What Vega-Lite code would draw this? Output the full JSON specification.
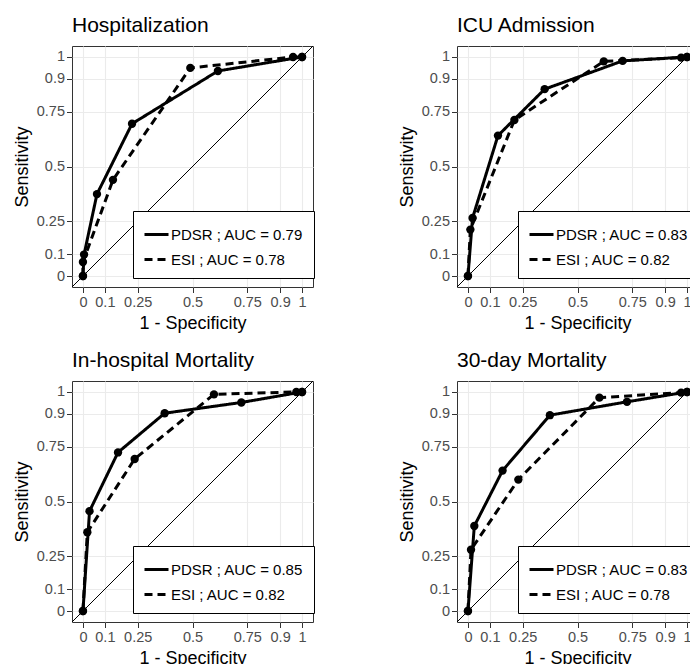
{
  "$schema": "https://vega.github.io/schema/vega-lite/v6.json",
  "padding": {"left": 12, "top": 14, "right": 0, "bottom": 0},
  "datasets": {
    "roc": [
      {"panel": "Hospitalization", "model": "PDSR", "step": 0, "fpr": 0, "tpr": 0},
      {"panel": "Hospitalization", "model": "PDSR", "step": 1, "fpr": 0.005, "tpr": 0.098},
      {"panel": "Hospitalization", "model": "PDSR", "step": 2, "fpr": 0.064, "tpr": 0.374},
      {"panel": "Hospitalization", "model": "PDSR", "step": 3, "fpr": 0.224, "tpr": 0.695},
      {"panel": "Hospitalization", "model": "PDSR", "step": 4, "fpr": 0.616, "tpr": 0.936},
      {"panel": "Hospitalization", "model": "PDSR", "step": 5, "fpr": 1, "tpr": 1},
      {"panel": "Hospitalization", "model": "ESI", "step": 0, "fpr": 0, "tpr": 0},
      {"panel": "Hospitalization", "model": "ESI", "step": 1, "fpr": 0, "tpr": 0.064},
      {"panel": "Hospitalization", "model": "ESI", "step": 2, "fpr": 0.137, "tpr": 0.439},
      {"panel": "Hospitalization", "model": "ESI", "step": 3, "fpr": 0.49, "tpr": 0.95},
      {"panel": "Hospitalization", "model": "ESI", "step": 4, "fpr": 0.959, "tpr": 1},
      {"panel": "Hospitalization", "model": "ESI", "step": 5, "fpr": 1, "tpr": 1},
      {"panel": "ICU Admission", "model": "PDSR", "step": 0, "fpr": 0, "tpr": 0},
      {"panel": "ICU Admission", "model": "PDSR", "step": 1, "fpr": 0.021, "tpr": 0.265},
      {"panel": "ICU Admission", "model": "PDSR", "step": 2, "fpr": 0.137, "tpr": 0.641},
      {"panel": "ICU Admission", "model": "PDSR", "step": 3, "fpr": 0.35, "tpr": 0.853},
      {"panel": "ICU Admission", "model": "PDSR", "step": 4, "fpr": 0.706, "tpr": 0.982},
      {"panel": "ICU Admission", "model": "PDSR", "step": 5, "fpr": 1, "tpr": 1},
      {"panel": "ICU Admission", "model": "ESI", "step": 0, "fpr": 0, "tpr": 0},
      {"panel": "ICU Admission", "model": "ESI", "step": 1, "fpr": 0.011, "tpr": 0.212},
      {"panel": "ICU Admission", "model": "ESI", "step": 2, "fpr": 0.212, "tpr": 0.712},
      {"panel": "ICU Admission", "model": "ESI", "step": 3, "fpr": 0.62, "tpr": 0.98},
      {"panel": "ICU Admission", "model": "ESI", "step": 4, "fpr": 0.973, "tpr": 0.997},
      {"panel": "ICU Admission", "model": "ESI", "step": 5, "fpr": 1, "tpr": 1},
      {"panel": "In-hospital Mortality", "model": "PDSR", "step": 0, "fpr": 0, "tpr": 0},
      {"panel": "In-hospital Mortality", "model": "PDSR", "step": 1, "fpr": 0.03, "tpr": 0.456},
      {"panel": "In-hospital Mortality", "model": "PDSR", "step": 2, "fpr": 0.16, "tpr": 0.724},
      {"panel": "In-hospital Mortality", "model": "PDSR", "step": 3, "fpr": 0.373, "tpr": 0.903},
      {"panel": "In-hospital Mortality", "model": "PDSR", "step": 4, "fpr": 0.723, "tpr": 0.952},
      {"panel": "In-hospital Mortality", "model": "PDSR", "step": 5, "fpr": 1, "tpr": 1},
      {"panel": "In-hospital Mortality", "model": "ESI", "step": 0, "fpr": 0, "tpr": 0},
      {"panel": "In-hospital Mortality", "model": "ESI", "step": 1, "fpr": 0.02, "tpr": 0.36},
      {"panel": "In-hospital Mortality", "model": "ESI", "step": 2, "fpr": 0.236, "tpr": 0.694},
      {"panel": "In-hospital Mortality", "model": "ESI", "step": 3, "fpr": 0.598, "tpr": 0.989},
      {"panel": "In-hospital Mortality", "model": "ESI", "step": 4, "fpr": 0.974, "tpr": 1},
      {"panel": "In-hospital Mortality", "model": "ESI", "step": 5, "fpr": 1, "tpr": 1},
      {"panel": "30-day Mortality", "model": "PDSR", "step": 0, "fpr": 0, "tpr": 0},
      {"panel": "30-day Mortality", "model": "PDSR", "step": 1, "fpr": 0.029, "tpr": 0.388},
      {"panel": "30-day Mortality", "model": "PDSR", "step": 2, "fpr": 0.158, "tpr": 0.641},
      {"panel": "30-day Mortality", "model": "PDSR", "step": 3, "fpr": 0.374, "tpr": 0.894},
      {"panel": "30-day Mortality", "model": "PDSR", "step": 4, "fpr": 0.726, "tpr": 0.955},
      {"panel": "30-day Mortality", "model": "PDSR", "step": 5, "fpr": 1, "tpr": 1},
      {"panel": "30-day Mortality", "model": "ESI", "step": 0, "fpr": 0, "tpr": 0},
      {"panel": "30-day Mortality", "model": "ESI", "step": 1, "fpr": 0.014, "tpr": 0.28},
      {"panel": "30-day Mortality", "model": "ESI", "step": 2, "fpr": 0.23, "tpr": 0.6},
      {"panel": "30-day Mortality", "model": "ESI", "step": 3, "fpr": 0.6, "tpr": 0.974},
      {"panel": "30-day Mortality", "model": "ESI", "step": 4, "fpr": 0.973, "tpr": 0.997},
      {"panel": "30-day Mortality", "model": "ESI", "step": 5, "fpr": 1, "tpr": 1}
    ]
  },
  "columns": 2,
  "spacing": {"column": 82, "row": 16},
  "resolve": {"scale": {"strokeDash": "independent"}, "legend": {"strokeDash": "independent"}},
  "concat": [
    {
      "width": 241, "height": 241,
      "title": {"text": "Hospitalization"},
      "layer": [
        {"data": {"values": [{}]}, "mark": {"type": "rule", "color": "black", "strokeWidth": 1},
         "encoding": {"x": {"datum": -0.05, "type": "quantitative", "scale": {"domain": [-0.05, 1.05], "nice": false, "zero": false}, "axis": {"values": [0, 0.1, 0.25, 0.5, 0.75, 0.9, 1], "format": ".2~f", "title": "1 - Specificity"}},
                      "y": {"datum": -0.05, "type": "quantitative", "scale": {"domain": [-0.05, 1.05], "nice": false, "zero": false}, "axis": {"values": [0, 0.1, 0.25, 0.5, 0.75, 0.9, 1], "format": ".2~f", "title": "Sensitivity"}},
                      "x2": {"datum": 1.05}, "y2": {"datum": 1.05}}},
        {"data": {"name": "roc"},
         "transform": [{"filter": "datum.panel === 'Hospitalization'"}],
         "mark": {"type": "line", "color": "black", "strokeWidth": 3},
         "encoding": {"x": {"field": "fpr", "type": "quantitative"}, "y": {"field": "tpr", "type": "quantitative"}, "order": {"field": "step"},
                      "strokeDash": {"field": "model", "type": "nominal", "scale": {"domain": ["PDSR", "ESI"], "range": [[1, 0], [8, 5]]},
                                     "legend": {"labelExpr": "datum.label === 'PDSR' ? 'PDSR ; AUC = 0.79' : 'ESI ; AUC = 0.78'"}}}},
        {"data": {"name": "roc"},
         "transform": [{"filter": "datum.panel === 'Hospitalization'"}],
         "mark": {"type": "point", "filled": true, "color": "black", "size": 70, "opacity": 1},
         "encoding": {"x": {"field": "fpr", "type": "quantitative"}, "y": {"field": "tpr", "type": "quantitative"}}}
      ]
    },
    {
      "width": 241, "height": 241,
      "title": {"text": "ICU Admission"},
      "layer": [
        {"data": {"values": [{}]}, "mark": {"type": "rule", "color": "black", "strokeWidth": 1},
         "encoding": {"x": {"datum": -0.05, "type": "quantitative", "scale": {"domain": [-0.05, 1.05], "nice": false, "zero": false}, "axis": {"values": [0, 0.1, 0.25, 0.5, 0.75, 0.9, 1], "format": ".2~f", "title": "1 - Specificity"}},
                      "y": {"datum": -0.05, "type": "quantitative", "scale": {"domain": [-0.05, 1.05], "nice": false, "zero": false}, "axis": {"values": [0, 0.1, 0.25, 0.5, 0.75, 0.9, 1], "format": ".2~f", "title": "Sensitivity"}},
                      "x2": {"datum": 1.05}, "y2": {"datum": 1.05}}},
        {"data": {"name": "roc"},
         "transform": [{"filter": "datum.panel === 'ICU Admission'"}],
         "mark": {"type": "line", "color": "black", "strokeWidth": 3},
         "encoding": {"x": {"field": "fpr", "type": "quantitative"}, "y": {"field": "tpr", "type": "quantitative"}, "order": {"field": "step"},
                      "strokeDash": {"field": "model", "type": "nominal", "scale": {"domain": ["PDSR", "ESI"], "range": [[1, 0], [8, 5]]},
                                     "legend": {"labelExpr": "datum.label === 'PDSR' ? 'PDSR ; AUC = 0.83' : 'ESI ; AUC = 0.82'"}}}},
        {"data": {"name": "roc"},
         "transform": [{"filter": "datum.panel === 'ICU Admission'"}],
         "mark": {"type": "point", "filled": true, "color": "black", "size": 70, "opacity": 1},
         "encoding": {"x": {"field": "fpr", "type": "quantitative"}, "y": {"field": "tpr", "type": "quantitative"}}}
      ]
    },
    {
      "width": 241, "height": 241,
      "title": {"text": "In-hospital Mortality"},
      "layer": [
        {"data": {"values": [{}]}, "mark": {"type": "rule", "color": "black", "strokeWidth": 1},
         "encoding": {"x": {"datum": -0.05, "type": "quantitative", "scale": {"domain": [-0.05, 1.05], "nice": false, "zero": false}, "axis": {"values": [0, 0.1, 0.25, 0.5, 0.75, 0.9, 1], "format": ".2~f", "title": "1 - Specificity"}},
                      "y": {"datum": -0.05, "type": "quantitative", "scale": {"domain": [-0.05, 1.05], "nice": false, "zero": false}, "axis": {"values": [0, 0.1, 0.25, 0.5, 0.75, 0.9, 1], "format": ".2~f", "title": "Sensitivity"}},
                      "x2": {"datum": 1.05}, "y2": {"datum": 1.05}}},
        {"data": {"name": "roc"},
         "transform": [{"filter": "datum.panel === 'In-hospital Mortality'"}],
         "mark": {"type": "line", "color": "black", "strokeWidth": 3},
         "encoding": {"x": {"field": "fpr", "type": "quantitative"}, "y": {"field": "tpr", "type": "quantitative"}, "order": {"field": "step"},
                      "strokeDash": {"field": "model", "type": "nominal", "scale": {"domain": ["PDSR", "ESI"], "range": [[1, 0], [8, 5]]},
                                     "legend": {"labelExpr": "datum.label === 'PDSR' ? 'PDSR ; AUC = 0.85' : 'ESI ; AUC = 0.82'"}}}},
        {"data": {"name": "roc"},
         "transform": [{"filter": "datum.panel === 'In-hospital Mortality'"}],
         "mark": {"type": "point", "filled": true, "color": "black", "size": 70, "opacity": 1},
         "encoding": {"x": {"field": "fpr", "type": "quantitative"}, "y": {"field": "tpr", "type": "quantitative"}}}
      ]
    },
    {
      "width": 241, "height": 241,
      "title": {"text": "30-day Mortality"},
      "layer": [
        {"data": {"values": [{}]}, "mark": {"type": "rule", "color": "black", "strokeWidth": 1},
         "encoding": {"x": {"datum": -0.05, "type": "quantitative", "scale": {"domain": [-0.05, 1.05], "nice": false, "zero": false}, "axis": {"values": [0, 0.1, 0.25, 0.5, 0.75, 0.9, 1], "format": ".2~f", "title": "1 - Specificity"}},
                      "y": {"datum": -0.05, "type": "quantitative", "scale": {"domain": [-0.05, 1.05], "nice": false, "zero": false}, "axis": {"values": [0, 0.1, 0.25, 0.5, 0.75, 0.9, 1], "format": ".2~f", "title": "Sensitivity"}},
                      "x2": {"datum": 1.05}, "y2": {"datum": 1.05}}},
        {"data": {"name": "roc"},
         "transform": [{"filter": "datum.panel === '30-day Mortality'"}],
         "mark": {"type": "line", "color": "black", "strokeWidth": 3},
         "encoding": {"x": {"field": "fpr", "type": "quantitative"}, "y": {"field": "tpr", "type": "quantitative"}, "order": {"field": "step"},
                      "strokeDash": {"field": "model", "type": "nominal", "scale": {"domain": ["PDSR", "ESI"], "range": [[1, 0], [8, 5]]},
                                     "legend": {"labelExpr": "datum.label === 'PDSR' ? 'PDSR ; AUC = 0.83' : 'ESI ; AUC = 0.78'"}}}},
        {"data": {"name": "roc"},
         "transform": [{"filter": "datum.panel === '30-day Mortality'"}],
         "mark": {"type": "point", "filled": true, "color": "black", "size": 70, "opacity": 1},
         "encoding": {"x": {"field": "fpr", "type": "quantitative"}, "y": {"field": "tpr", "type": "quantitative"}}}
      ]
    }
  ],
  "config": {
    "font": "Liberation Sans",
    "background": "white",
    "view": {"stroke": "#333333", "strokeWidth": 1},
    "axis": {"grid": true, "gridColor": "#EBEBEB", "gridWidth": 1.1, "domain": false, "tickColor": "#333333", "tickSize": 5.5, "tickWidth": 1,
             "labelFontSize": 14.5, "labelColor": "#4D4D4D", "labelPadding": 2, "labelFlush": false, "labelOverlap": false,
             "titleFontSize": 18, "titleFontWeight": "normal", "titleColor": "black", "titlePadding": 5},
    "axisX": {"labelPadding": 3, "titlePadding": 5},
    "title": {"anchor": "start", "frame": "group", "fontSize": 21, "fontWeight": "normal", "color": "black", "offset": 10, "baseline": "alphabetic"},
    "legend": {"orient": "none", "legendX": 61, "legendY": 165, "title": null, "padding": 10, "symbolSize": 576, "symbolStrokeWidth": 3,
               "symbolType": "stroke", "symbolStrokeColor": "black", "rowPadding": 3, "labelOffset": 1, "labelFontSize": 15, "labelColor": "black",
               "strokeColor": "black", "fillColor": "white", "labelLimit": 300}
  }
}
